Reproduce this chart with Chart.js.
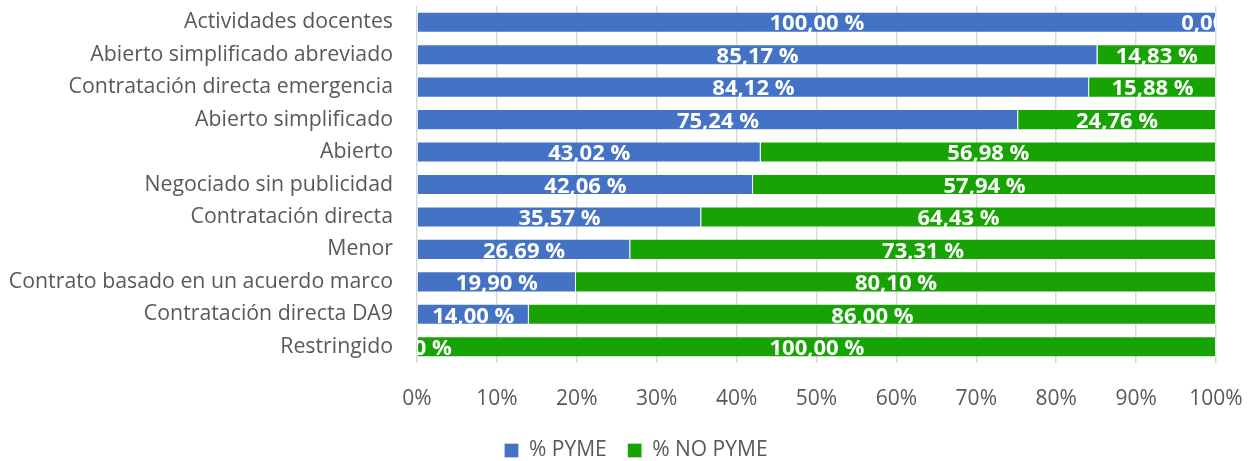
<!DOCTYPE html>
<html>
<head>
<meta charset="utf-8">
<script src="https://cdn.jsdelivr.net/npm/chart.js@4"></script>
<style>
  html, body { margin: 0; padding: 0; background: #fff; }
  #wrap { width: 1251px; height: 461px; }
</style>
</head>
<body>
<div id="wrap"><canvas id="myChart" width="1251" height="461"></canvas></div>
<script>
const categories = ['Actividades docentes', 'Abierto simplificado abreviado', 'Contratación directa emergencia',
  'Abierto simplificado', 'Abierto', 'Negociado sin publicidad', 'Contratación directa', 'Menor',
  'Contrato basado en un acuerdo marco', 'Contratación directa DA9', 'Restringido'];
const pyme = [100.00, 85.17, 84.12, 75.24, 43.02, 42.06, 35.57, 26.69, 19.90, 14.00, 0.00];
const noPyme = [0.00, 14.83, 15.88, 24.76, 56.98, 57.94, 64.43, 73.31, 80.10, 86.00, 100.00];
const seriesNames = ['% PYME', '% NO PYME'];
const tickValues = [0, 10, 20, 30, 40, 50, 60, 70, 80, 90, 100];

const fontName = '"Open Sans", "Noto Sans", sans-serif';
const textGray = '#595959';

// white value labels centred on each segment, clipped to the plot area
const valueLabels = {
  id: 'valueLabels',
  afterLayout(chart) {
    // legend sits a bit right of the canvas centre in the original
    chart.legend.left += 28;
    chart.legend.right += 28;
  },
  afterDatasetsDraw(chart) {
    const { ctx, chartArea } = chart;
    ctx.save();
    ctx.beginPath();
    ctx.rect(chartArea.left, chartArea.top, chartArea.right - chartArea.left, chartArea.bottom - chartArea.top);
    ctx.clip();
    ctx.font = 'bold 22px ' + fontName;
    ctx.fillStyle = '#ffffff';
    ctx.textAlign = 'center';
    ctx.textBaseline = 'middle';
    chart.data.datasets.forEach((ds, i) => {
      chart.getDatasetMeta(i).data.forEach((bar, j) => {
        const txt = ds.data[j].toFixed(2).replace('.', ',') + ' %';
        ctx.fillText(txt, (bar.x + bar.base) / 2, bar.y + 2);
      });
    });
    ctx.restore();
  }
};

// keep the axes from reserving extra room for their end labels
function noEdgePadding(scale) {
  scale.paddingTop = 0;
  scale.paddingBottom = 0;
  scale.paddingLeft = 0;
  scale.paddingRight = 0;
}

new Chart(document.getElementById('myChart'), {
  type: 'bar',
  data: {
    labels: categories,
    datasets: [{
      label: seriesNames[0],
      data: pyme,
      backgroundColor: '#4472C4',
      borderColor: 'rgba(255,255,255,0.3)',
      borderWidth: 1,
      barPercentage: 0.65,
      categoryPercentage: 1
    }, {
      label: seriesNames[1],
      data: noPyme,
      backgroundColor: '#18A305',
      borderColor: 'rgba(255,255,255,0.3)',
      borderWidth: 1,
      barPercentage: 0.65,
      categoryPercentage: 1
    }]
  },
  options: {
    indexAxis: 'y',
    responsive: false,
    animation: false,
    layout: { padding: { left: 0, right: 35, top: 6, bottom: -10 } },
    scales: {
      x: {
        stacked: true,
        min: 0,
        max: 100,
        afterBuildTicks(scale) { scale.ticks = tickValues.map(v => ({ value: v })); },
        afterFit(scale) { scale.height = 56; noEdgePadding(scale); },
        border: { display: false },
        grid: { color: '#d9d9d9', lineWidth: 1.5, drawTicks: false },
        ticks: {
          padding: 23,
          color: textGray,
          font: { family: fontName, size: 21 },
          callback: v => v + '%'
        }
      },
      y: {
        stacked: true,
        afterFit(scale) { scale.width = 417; noEdgePadding(scale); },
        border: { display: false },
        grid: { display: false, drawTicks: false },
        ticks: {
          padding: 24,
          color: textGray,
          font: { family: fontName, size: 21.3 }
        }
      }
    },
    plugins: {
      tooltip: { enabled: false },
      legend: {
        position: 'bottom',
        labels: {
          boxWidth: 14,
          boxHeight: 14,
          padding: 21,
          color: textGray,
          font: { family: fontName, size: 21 }
        }
      }
    }
  },
  plugins: [valueLabels]
});
</script>
</body>
</html>
